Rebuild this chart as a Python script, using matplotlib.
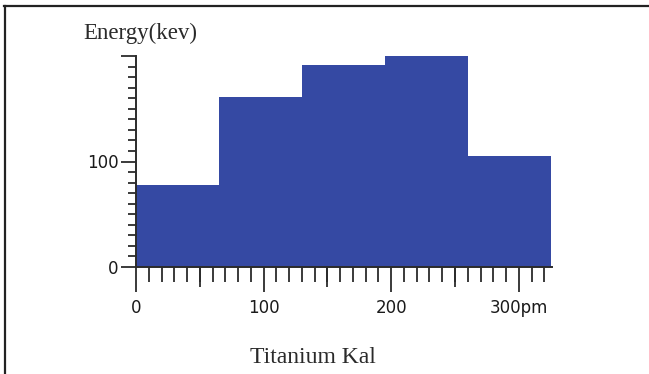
import matplotlib
matplotlib.use('Agg')
import matplotlib.pyplot as plt
from matplotlib.lines import Line2D

plt.rcParams['font.family'] = ['DejaVu Sans']

# bins (pm) and heights (kev)
bin_edges = [0, 65, 130, 195, 260, 325]
energy = [78, 161, 191, 200, 105]

x_major = [0, 100, 200, 300]
x_labels = ['0', '100', '200', '300pm']
x_mid = [50, 150, 250]
y_major = [0, 100, 200]
y_labels = ['0', '100', '']

bar_color = '#3549a3'
ink = '#2b2b2b'

fig = plt.figure(figsize=(6.49, 3.74), dpi=100)
ax = fig.add_axes([136/649, 1-267/374, 416/649, 211/374])

widths = [bin_edges[i+1]-bin_edges[i] for i in range(len(energy))]
ax.bar(bin_edges[:-1], energy, width=widths, align='edge', color=bar_color, linewidth=0)

ax.set_xlim(0, 326)
ax.set_ylim(0, 200)

for s in ['top', 'right']:
    ax.spines[s].set_visible(False)
for s in ['left', 'bottom']:
    ax.spines[s].set_linewidth(1.4)
    ax.spines[s].set_color(ink)

ax.set_xticks(x_major)
ax.set_xticklabels(x_labels)
ax.set_xticks(range(0, 330, 10), minor=True)
ax.set_yticks(y_major)
ax.set_yticklabels(y_labels)
ax.set_yticks(range(0, 201, 10), minor=True)

ax.tick_params(axis='x', which='major', direction='out', length=18, width=1.3,
               color=ink, pad=5, labelsize=12, labelcolor='#1a1a1a')
ax.tick_params(axis='x', which='minor', direction='out', length=11, width=1.3, color=ink)
ax.tick_params(axis='y', which='major', direction='out', length=11, width=1.3,
               color=ink, pad=1.5, labelsize=12, labelcolor='#1a1a1a')
ax.tick_params(axis='y', which='minor', direction='out', length=6, width=1.3, color=ink)

# medium ticks at the 50s
sec = ax.secondary_xaxis('bottom')
sec.set_xticks(x_mid)
sec.tick_params(axis='x', direction='out', length=14.5, width=1.3, color=ink, labelbottom=False)
sec.spines['bottom'].set_visible(False)

fig.text(83/649, 1-39/374, 'Energy(kev)', family='Liberation Serif', fontsize=16.5,
         color='#2a2a2a', ha='left', va='baseline')
fig.text(250/649, 1-363/374, 'Titanium Kal', family='Liberation Serif', fontsize=17,
         color='#2a2a2a', ha='left', va='baseline')

# page frame (top and left edges only)
fig.add_artist(Line2D([4/649, 1], [1-6/374, 1-6/374], transform=fig.transFigure,
                      color='#222', linewidth=1.6))
fig.add_artist(Line2D([4.5/649, 4.5/649], [0, 1-6/374], transform=fig.transFigure,
                      color='#222', linewidth=1.6))

fig.savefig('out.png', dpi=100)
